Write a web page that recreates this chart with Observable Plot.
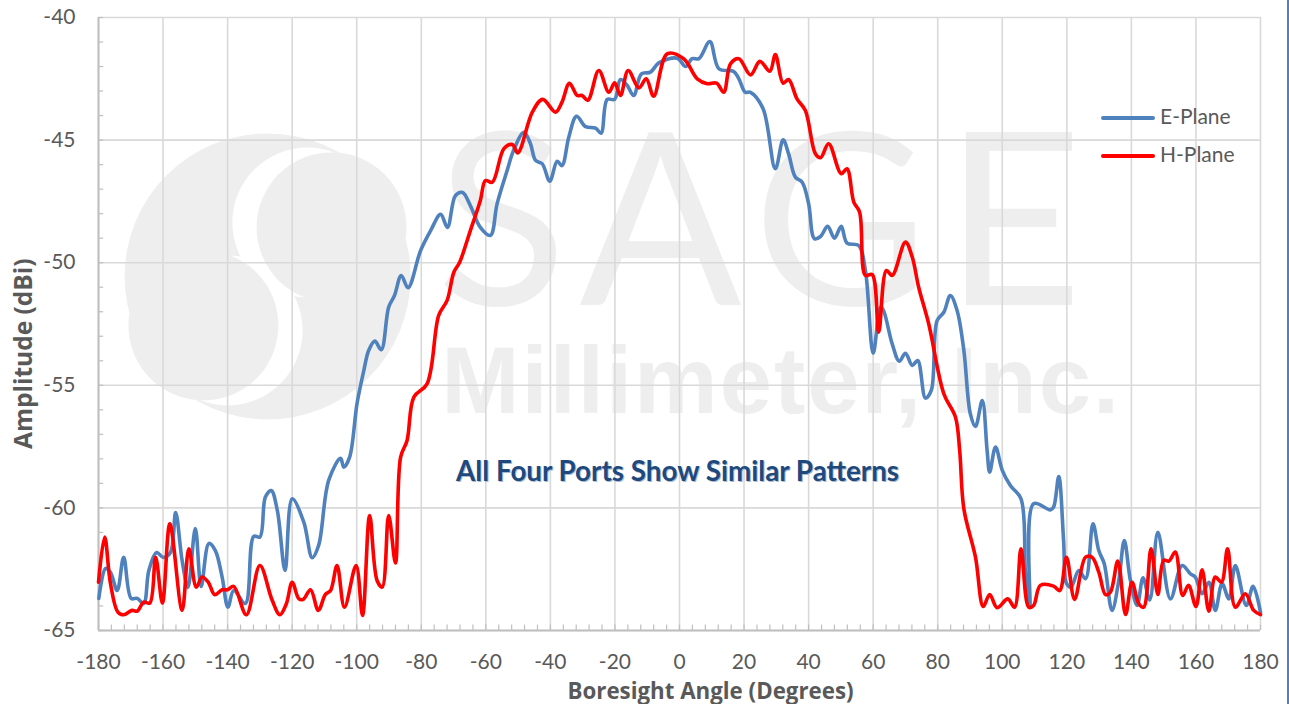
<!DOCTYPE html>
<html><head><meta charset="utf-8">
<script src="https://cdn.jsdelivr.net/npm/d3@7"></script>
<script src="https://cdn.jsdelivr.net/npm/@observablehq/plot@0.6"></script>
<style>
html,body{margin:0;padding:0;background:#fff;overflow:hidden}
#wrap{position:relative;width:1289px;height:704px}
#edge{position:absolute;left:1287px;top:0;width:2px;height:704px;background:#4f81bd}
.leg{position:absolute;left:1101px;font:21px Lato,sans-serif;color:#595959;line-height:24px;height:24px}
.leg i{display:inline-block;width:54px;height:4px;border-radius:2px;vertical-align:middle;margin:-2px 5px 0 0}
.sage{letter-spacing:15.7px}
.mill{letter-spacing:2px}
</style></head><body>
<div id="wrap"></div>
<script>
const ePlaneAngle=[-179.9,-177.8,-176.3,-174.2,-172.2,-169.9,-168,-166,-164.4,-162,-159.9,-157.7,-156.1,-154.1,-152.3,-150,-148.2,-145.8,-143.8,-141.7,-139.9,-138.1,-134.5,-131.9,-130,-128.3,-126.5,-124.6,-122.2,-120,-116.4,-113.8,-111.8,-108.7,-105,-104,-102.2,-99.9,-97.8,-96.3,-94.4,-92.4,-90.1,-88.3,-86.2,-84.1,-80.2,-77.1,-74,-71.9,-69.4,-67.2,-64.8,-61.7,-58.6,-56.5,-53.4,-51.4,-48.2,-46.2,-44.6,-42.5,-40.2,-37.9,-36.4,-34.3,-31.9,-29.1,-26,-24.3,-22.4,-20.1,-18.3,-16.2,-14.2,-11.8,-9,-6.4,-0.7,1.9,3.9,6,9.4,12.2,16.8,18.4,20.4,22,25.9,29.7,32.1,33.8,35.9,38,40,41.8,43.7,45.9,48,50.1,51.9,55.5,57.6,60,62.3,63.2,65.9,68.1,70,72.1,73.8,76.2,78,79.8,81.9,83.9,86,88.1,90.1,91.7,93.8,95.3,96.1,97.9,100,102.5,105.8,107.2,108.5,109.7,114.9,115.9,117.5,119,119.9,121.3,123.7,125.8,128.1,129.9,131.6,134,136.1,137.8,139.7,141.8,143.6,145.7,148.2,152.1,155.7,158.3,159.8,161.9,164,166,168.1,170.2,172.2,175.6,177.7,180];
const ePlaneDb=[-63.69,-62.47,-62.63,-63.37,-62.01,-63.69,-63.69,-63.9,-62.55,-61.82,-62.02,-61.82,-60.19,-62.14,-63.24,-60.84,-63.2,-61.45,-61.74,-62.82,-64.05,-63.37,-63.9,-61.16,-61.19,-59.56,-59.29,-60.1,-62.55,-59.63,-60.58,-62.03,-61.53,-58.88,-57.98,-58.34,-57.93,-55.74,-54.4,-53.58,-53.2,-53.55,-51.81,-51.34,-50.52,-51.02,-49.5,-48.69,-48.03,-48.56,-47.26,-47.14,-47.67,-48.56,-48.89,-47.59,-46.24,-45.42,-44.68,-45.14,-45.83,-45.97,-46.68,-45.86,-46.04,-44.88,-44.03,-44.45,-44.51,-44.72,-43.34,-43.34,-42.53,-42.77,-43.18,-42.3,-42.23,-41.85,-41.66,-42,-41.68,-41.68,-40.98,-42.09,-42.2,-42.5,-43.05,-43.05,-43.72,-46.17,-44.99,-45.56,-46.51,-46.72,-47.59,-49.02,-48.93,-48.52,-49,-48.52,-49.2,-49.3,-50.32,-53.69,-51.81,-51.95,-53.31,-54.02,-53.69,-54.19,-53.99,-55.52,-55.21,-52.36,-52.02,-51.34,-51.95,-53.58,-56.16,-56.68,-55.62,-57.66,-58.54,-57.52,-58.47,-59.09,-59.63,-62.67,-64.05,-59.83,-60.08,-59.97,-58.72,-61.33,-63.08,-63.23,-62.55,-62.89,-60.65,-61.74,-62.28,-64.18,-62.96,-61.33,-62.96,-63.98,-62.85,-63.75,-60.99,-63.71,-62.35,-62.69,-62.82,-63.5,-63.03,-64.18,-63.09,-63.71,-62.35,-63.98,-63.2,-64.26];
const hPlaneAngle=[-180,-178.1,-176.3,-174,-172.2,-169.6,-168,-166,-164.1,-162.3,-160.2,-157.9,-154.1,-152,-149.7,-147.9,-146,-144,-141.7,-140.1,-138.1,-134.2,-130,-126.2,-123.8,-121.8,-120,-117.9,-116.6,-114.3,-111.9,-109.7,-108.1,-106.1,-103.8,-100.2,-98.2,-96,-93.7,-92.1,-90.1,-88,-86.4,-84.4,-82.3,-78.2,-74.6,-72,-69.9,-68.1,-64.8,-61.7,-60.1,-58,-54.4,-51.8,-50.1,-45.6,-42.4,-38.4,-36.4,-34.1,-31.7,-30.2,-28.4,-25,-21.9,-20.1,-18.3,-15.9,-12.6,-10.3,-8,-3.8,1.3,5.5,8.6,11.5,13.7,15.8,18.4,22,24.9,28,29.7,32.1,33.8,36.4,39,42.1,43.7,46.2,50.1,51.9,54,55.8,57.6,59.7,61.7,64.1,65.9,70,72.1,74.1,77.2,81.9,85.5,86.8,88.1,91.7,94.1,96.1,98.4,101.7,103.8,105.8,108.2,109.7,111.8,115.9,117.8,119.9,122.4,125.8,127.8,129.9,132,133.5,135.8,138.2,140.2,142.3,143.8,146.1,148.2,150,151.6,153.6,155.9,157.7,160,161.9,164,166,167.9,169.8,172.2,175.3,177.9,180];
const hPlaneDb=[-63.03,-61.19,-63.08,-64.25,-64.36,-64.18,-64.21,-63.84,-63.88,-62.01,-63.88,-60.65,-64.18,-61.67,-63.23,-62.82,-63.03,-63.54,-63.34,-63.34,-63.2,-64.36,-62.35,-63.77,-64.36,-63.91,-63.03,-63.71,-63.73,-63.34,-64.18,-63.53,-63.37,-62.35,-64.05,-62.35,-64.39,-60.31,-62.96,-63.23,-60.31,-62.25,-57.93,-57.25,-55.48,-54.94,-52.15,-51.54,-50.39,-49.98,-48.69,-47.46,-46.65,-46.72,-45.35,-45.18,-45.52,-43.86,-43.34,-43.86,-43.45,-42.68,-43.18,-43.18,-43.38,-42.16,-43.05,-42.66,-43.18,-42.16,-42.87,-42.5,-43.21,-41.48,-41.68,-42.5,-42.7,-42.68,-43.05,-41.89,-41.68,-42.34,-41.79,-42.19,-41.51,-42.68,-42.53,-43.32,-43.79,-45.56,-45.72,-45.15,-46.37,-46.17,-47.53,-47.94,-50.52,-50.48,-52.83,-50.32,-50.52,-49.16,-49.77,-51,-52.49,-55.35,-56.3,-57.66,-60.04,-62.01,-64.02,-63.53,-64.07,-63.71,-64.05,-61.67,-64.05,-63.98,-63.16,-63.19,-63.37,-62.01,-63.73,-62.01,-62.01,-62.62,-63.54,-63.44,-62.17,-64.35,-63.03,-63.91,-64.05,-61.67,-63.53,-62.14,-62.17,-61.8,-63.57,-63.16,-64.02,-62.52,-64.21,-62.82,-63.03,-61.67,-64.05,-63.5,-64.18,-64.35];
const xMajor=d3.range(-180,181,20), yMajor=d3.range(-65,-39,5);
const xMinor=d3.range(-180,181,4), yMinor=d3.range(-65,-39,1);
const wmDisc=[-127.6,-50.56];
const wmWhite=[[-115.3,-48.36],[-140,-52.76]];
const wmGrey=[[-107.8,-48.56],[-147.5,-52.56]];
const font="Lato, sans-serif", titleFont="Open Sans, sans-serif";
const WM="#eeeeee", GRID="#d9d9d9", AXIS="#bfbfbf", INK="#595959";
const svg=Plot.plot({
  width:1289,height:704,marginLeft:98,marginRight:29,marginTop:17,marginBottom:74,
  style:{background:"#fff",fontFamily:font,overflow:"visible"},
  x:{domain:[-180,180]},y:{domain:[-65,-40]},
  marks:[
    Plot.dot([wmDisc],{x:d=>d[0],y:d=>d[1],r:143,fill:WM}),
    Plot.dot(wmWhite,{x:d=>d[0],y:d=>d[1],r:75,fill:"#fff"}),
    Plot.dot(wmGrey,{x:d=>d[0],y:d=>d[1],r:75,fill:WM}),
    Plot.text(["SAGE"],{x:()=>-75.3,y:()=>-51.74,textAnchor:"start",lineAnchor:"bottom",fontSize:240,fontWeight:400,fill:WM,fontFamily:font,className:"sage"}),
    Plot.text(["Millimeter, Inc."],{x:()=>-73.8,y:()=>-56.15,textAnchor:"start",lineAnchor:"bottom",fontSize:94,fontWeight:700,fill:WM,fontFamily:"Liberation Sans, sans-serif",className:"mill"}),
    Plot.ruleX(xMajor,{stroke:GRID,strokeWidth:1.6}),
    Plot.ruleY(yMajor,{stroke:GRID,strokeWidth:1.6}),
    Plot.ruleX(xMinor,{x:d=>d,y1:()=>-65,y2:()=>-64.78,stroke:AXIS,strokeWidth:1.2}),
    Plot.ruleY(yMinor,{y:d=>d,x1:()=>-180,x2:()=>-178.4,stroke:AXIS,strokeWidth:1.2}),
    Plot.ruleX([-180],{stroke:AXIS,strokeWidth:2}),
    Plot.ruleY([-65],{stroke:AXIS,strokeWidth:2}),
    Plot.axisX({ticks:xMajor,tickSize:0,tickPadding:24,tickFormat:d=>String(d),label:null,fontSize:21,color:INK,fill:INK}),
    Plot.axisY({ticks:yMajor,tickSize:0,tickPadding:23,tickFormat:d=>String(d),label:null,fontSize:21,color:INK,fill:INK}),
    Plot.text(["Boresight Angle (Degrees)"],{frameAnchor:"bottom",dx:31,dy:68,fontSize:22.3,fontWeight:700,fill:INK,fontFamily:titleFont}),
    Plot.text(["Amplitude (dBi)"],{frameAnchor:"left",rotate:-90,dx:-74,dy:125,fontSize:24.5,fontWeight:700,fill:INK,fontFamily:titleFont}),
    Plot.line(ePlaneDb,{x:ePlaneAngle,y:d=>d,stroke:"#4f81bd",strokeWidth:3.6,curve:"catmull-rom"}),
    Plot.line(hPlaneDb,{x:hPlaneAngle,y:d=>d,stroke:"#ff0000",strokeWidth:3.6,curve:"catmull-rom"}),
    Plot.text(["All Four Ports Show Similar Patterns"],{x:()=>-0.6,y:()=>-58.55,dx:1,dy:1,fontSize:27.8,fontWeight:700,fill:"#a9bbd0",fontFamily:font}),
    Plot.text(["All Four Ports Show Similar Patterns"],{x:()=>-0.6,y:()=>-58.55,fontSize:27.8,fontWeight:700,fill:"#1f497d",fontFamily:font})
  ]
});
const wrap=document.getElementById("wrap");
wrap.appendChild(svg);
const legendNames=["E-Plane","H-Plane"], legendColors=["#4f81bd","#ff0000"], legendTops=[104,142];
legendNames.forEach((n,i)=>{
  const d=document.createElement("div");d.className="leg";d.style.top=legendTops[i]+"px";
  d.innerHTML=`<i style="background:${legendColors[i]}"></i>${n}`;wrap.appendChild(d);
});
const e=document.createElement("div");e.id="edge";wrap.appendChild(e);
</script></body></html>
